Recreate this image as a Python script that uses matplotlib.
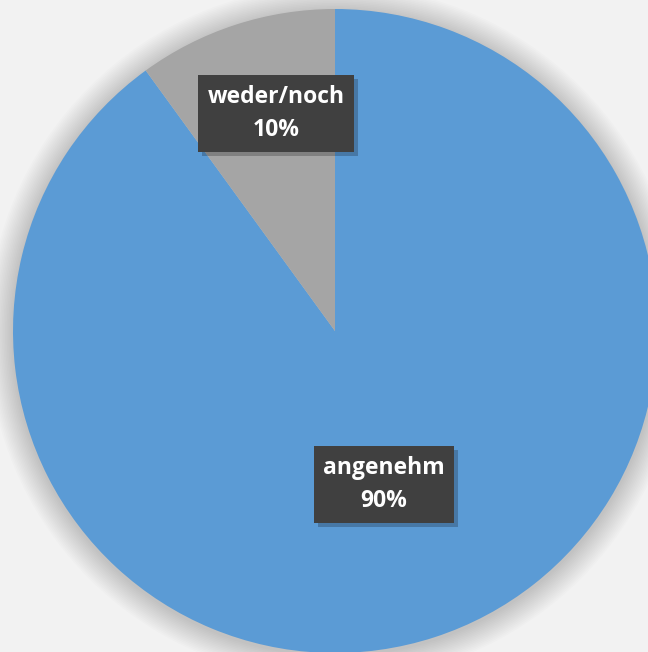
import numpy as np
import matplotlib.pyplot as plt
from matplotlib.patches import Circle, Rectangle
from matplotlib.transforms import IdentityTransform

labels = ['angenehm', 'weder/noch']
shares = [90, 10]
colors = ['#5b9bd5', '#a5a5a5']

fig = plt.figure(figsize=(6.48, 6.52), dpi=100, facecolor='#f2f2f2')
W, H = 648, 652
cx, cy, r = 335, 331, 322
ax = fig.add_axes([(cx - r) / W, (H - cy - r) / H, 2 * r / W, 2 * r / H])

# soft shadow round the pie
for i in range(16):
    ax.add_patch(Circle((0.0, -0.006), 1 + 0.005 * (i + 1), color='black',
                        alpha=0.01, lw=0, zorder=0, clip_on=False))

wedges, _ = ax.pie(shares, colors=colors, startangle=90, counterclock=False,
                   radius=1, wedgeprops=dict(linewidth=0))
for w in wedges:
    w.set_zorder(2)
    w.set_clip_on(False)

ax.set_xlim(-1, 1)
ax.set_ylim(-1, 1)
ax.set_aspect('equal')
ax.axis('off')

# label placement: (radius, angle shift from wedge middle)
label_pos = [(0.5, -0.3), (0.7, -2.8)]

texts = []
for w, lab, pct, (rr, dang) in zip(wedges, labels, shares, label_pos):
    ang = np.deg2rad((w.theta1 + w.theta2) / 2 + dang)
    x, y = rr * np.cos(ang), rr * np.sin(ang)
    t = ax.text(x, y, f'{lab}\n{pct}%', ha='center', va='center', fontsize=16.5,
                fontweight='bold', family='Open Sans', color='white', linespacing=1.5,
                bbox=dict(boxstyle='square,pad=0.42', fc='#404040', ec='none'),
                zorder=5)
    texts.append(t)

# box shadows
fig.canvas.draw()
for t in texts:
    bb = t.get_bbox_patch().get_window_extent()
    ax.add_artist(Rectangle((bb.x0 + 4, bb.y0 - 4), bb.width, bb.height,
                            transform=IdentityTransform(), fc='black', alpha=0.22,
                            ec='none', zorder=4))

fig.savefig('out.png', dpi=100, facecolor=fig.get_facecolor())
